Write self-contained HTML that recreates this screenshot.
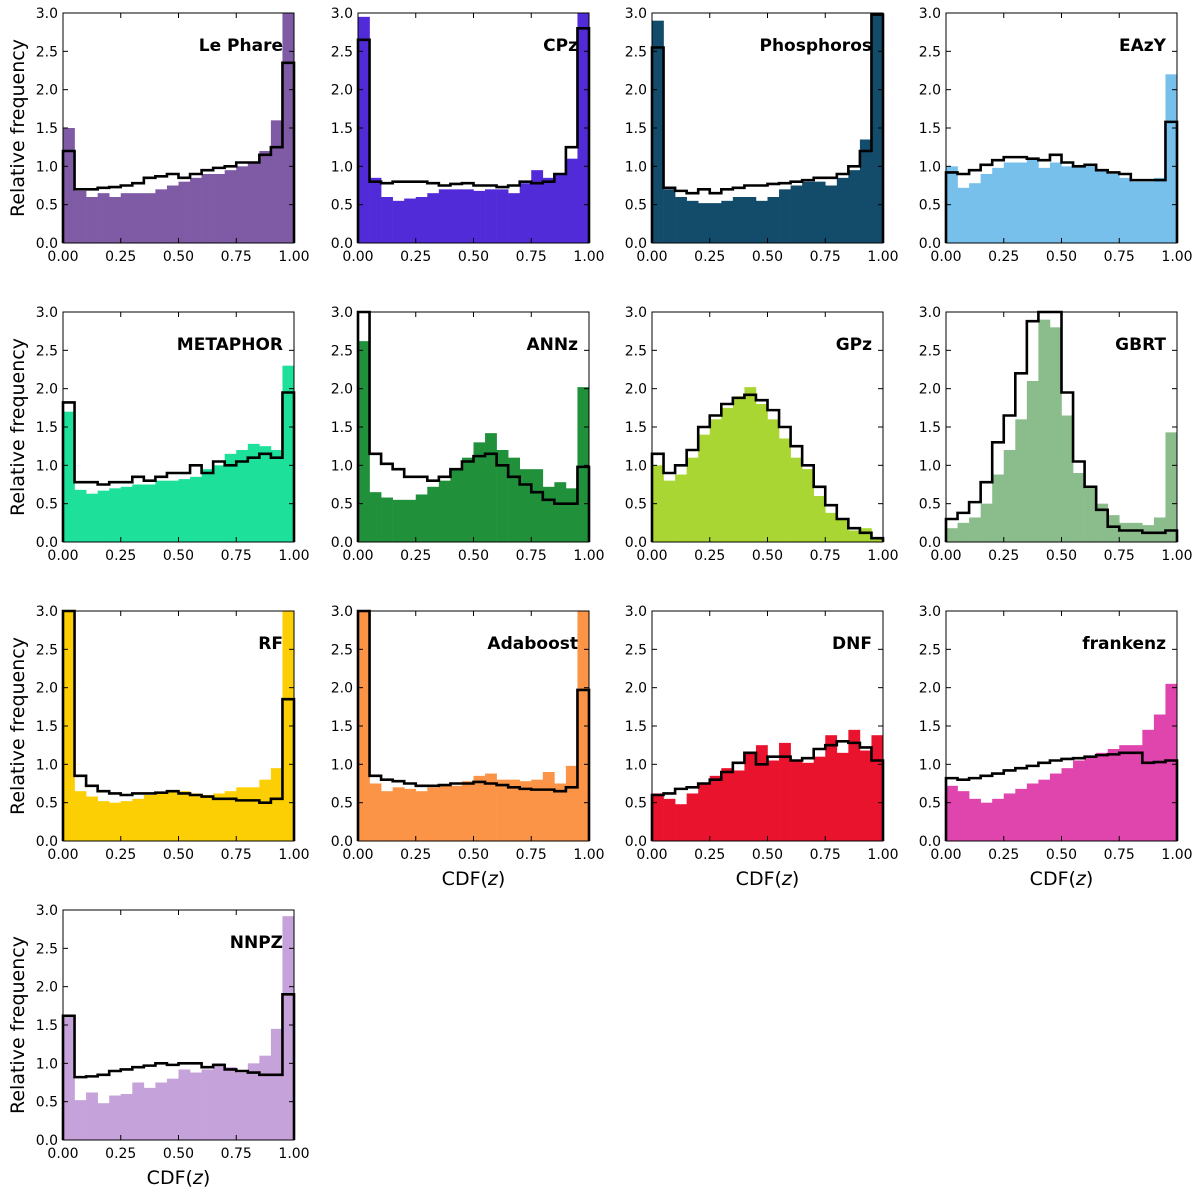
<!DOCTYPE html>
<html><head><meta charset="utf-8"><style>
body{margin:0;background:#fff}
svg{display:block;font-family:"DejaVu Sans","Liberation Sans",sans-serif}
</style></head><body>
<svg id="fig" width="1200" height="1197" viewBox="0 0 1200 1197" xmlns="http://www.w3.org/2000/svg"></svg>
<script>
const names=["Le Phare","CPz","Phosphoros","EAzY","METAPHOR","ANNz","GPz","GBRT","RF","Adaboost","DNF","frankenz","NNPZ"];
const colors=["#7f5ba6","#522bd8","#134b6b","#77c0ec","#1de09b","#21903b","#a9d632","#8bbc8b","#fccf05","#fb9446","#e9132e","#e044ad","#c6a2da"];
const bars=[
[1.5,0.68,0.6,0.65,0.6,0.65,0.65,0.65,0.7,0.75,0.8,0.85,0.9,0.9,0.95,1.0,1.05,1.2,1.6,3.0],
[2.95,0.85,0.6,0.55,0.58,0.6,0.65,0.7,0.7,0.7,0.68,0.7,0.7,0.65,0.78,0.95,0.85,0.9,1.1,3.0],
[2.9,0.7,0.6,0.55,0.52,0.52,0.55,0.6,0.6,0.55,0.6,0.7,0.75,0.8,0.8,0.75,0.85,0.95,1.35,3.0],
[1.0,0.72,0.78,0.9,0.98,1.05,1.05,1.1,0.98,1.05,1.0,1.0,1.0,0.95,0.9,0.85,0.8,0.8,0.85,2.2],
[1.7,0.68,0.63,0.67,0.7,0.72,0.75,0.75,0.8,0.8,0.82,0.85,0.95,1.0,1.15,1.2,1.28,1.25,1.2,2.3],
[2.62,0.65,0.58,0.55,0.55,0.62,0.72,0.8,0.95,1.1,1.3,1.42,1.2,1.1,0.95,0.95,0.72,0.78,0.7,2.02],
[1.0,0.8,0.88,1.1,1.4,1.6,1.75,1.9,2.02,1.8,1.6,1.35,1.1,0.95,0.6,0.38,0.3,0.15,0.18,0.05],
[0.18,0.25,0.32,0.5,0.88,1.2,1.6,2.1,2.9,2.8,1.65,0.9,0.7,0.5,0.35,0.25,0.25,0.22,0.32,1.43],
[3.0,0.65,0.58,0.52,0.5,0.52,0.55,0.6,0.62,0.65,0.65,0.62,0.6,0.62,0.65,0.7,0.7,0.8,0.95,3.0],
[3.0,0.75,0.65,0.7,0.68,0.65,0.7,0.72,0.72,0.78,0.85,0.88,0.8,0.8,0.78,0.8,0.9,0.75,0.98,3.0],
[0.62,0.55,0.48,0.62,0.75,0.85,0.95,0.92,1.15,1.25,1.05,1.28,1.05,1.02,1.1,1.38,1.15,1.45,1.18,1.38],
[0.72,0.65,0.55,0.5,0.55,0.62,0.68,0.75,0.8,0.88,0.95,1.05,1.1,1.15,1.2,1.25,1.25,1.45,1.65,2.05],
[1.6,0.52,0.62,0.48,0.58,0.6,0.75,0.68,0.75,0.8,0.92,0.88,0.92,1.0,0.95,0.88,1.0,1.1,1.45,2.92]];
const steps=[
[1.2,0.7,0.7,0.72,0.73,0.75,0.78,0.85,0.87,0.9,0.85,0.9,0.95,0.98,1.0,1.05,1.05,1.15,1.25,2.35],
[2.65,0.8,0.78,0.8,0.8,0.8,0.78,0.75,0.77,0.78,0.75,0.75,0.73,0.75,0.8,0.78,0.8,0.9,1.25,2.8],
[2.55,0.72,0.68,0.65,0.7,0.65,0.7,0.72,0.75,0.75,0.77,0.78,0.8,0.82,0.85,0.85,0.9,1.0,1.2,2.98],
[0.92,0.9,0.95,1.02,1.08,1.12,1.12,1.1,1.08,1.15,1.05,1.0,1.02,0.95,0.92,0.9,0.82,0.82,0.82,1.58],
[1.82,0.78,0.78,0.75,0.78,0.78,0.85,0.8,0.85,0.9,0.9,1.0,0.9,1.05,1.0,1.05,1.1,1.15,1.1,1.95],
[3.0,1.15,1.02,0.95,0.85,0.85,0.8,0.85,0.95,1.05,1.12,1.15,1.0,0.85,0.75,0.65,0.55,0.5,0.5,0.98],
[1.15,0.9,1.0,1.2,1.5,1.65,1.8,1.88,1.92,1.85,1.72,1.5,1.25,1.0,0.72,0.48,0.3,0.18,0.12,0.05],
[0.3,0.38,0.52,0.78,1.3,1.65,2.2,2.88,3.0,3.0,1.95,1.05,0.72,0.42,0.2,0.15,0.15,0.12,0.12,0.15],
[3.0,0.85,0.72,0.65,0.62,0.6,0.62,0.62,0.63,0.65,0.62,0.6,0.58,0.55,0.55,0.53,0.53,0.5,0.55,1.85],
[3.0,0.85,0.8,0.78,0.75,0.72,0.72,0.73,0.75,0.75,0.77,0.75,0.73,0.7,0.68,0.67,0.67,0.65,0.7,1.97],
[0.6,0.62,0.68,0.7,0.75,0.8,0.9,1.02,1.15,1.0,1.1,1.1,1.05,1.08,1.2,1.25,1.3,1.28,1.22,1.05],
[0.82,0.8,0.82,0.85,0.88,0.92,0.95,0.98,1.02,1.05,1.07,1.08,1.1,1.12,1.13,1.15,1.15,1.02,1.03,1.05],
[1.62,0.82,0.83,0.85,0.9,0.92,0.95,0.97,1.0,0.98,1.0,1.0,0.95,0.98,0.92,0.9,0.88,0.85,0.85,1.9]];
const xTicks=["0.00","0.25","0.50","0.75","1.00"];
const yTicks=["0.0","0.5","1.0","1.5","2.0","2.5","3.0"];

const NS="http://www.w3.org/2000/svg";
const svg=document.getElementById('fig');
const colX=[63,358,652,946], rowY=[13,312,611,910], W=231, H=230, YMAX=3.0;
function mk(tag,attrs,parent){const e=document.createElementNS(NS,tag);for(const k in attrs)e.setAttribute(k,attrs[k]);(parent||svg).appendChild(e);return e;}
names.forEach((name,p)=>{
  const x0=colX[p%4], y0=rowY[Math.floor(p/4)];
  const sx=v=>x0+v*W, sy=v=>y0+H-Math.min(v,YMAX)/YMAX*H;
  const g=mk('g',{});
  
  
  const n=bars[p].length, bw=1/n;
  bars[p].forEach((v,i)=>{
    const r=mk('rect',{x:sx(i*bw),y:sy(v),width:sx((i+1)*bw)-sx(i*bw)+0.3,height:sy(0)-sy(v),fill:colors[p]},g);
    
    
  });
  let d='M'+sx(0)+','+sy(0);
  steps[p].forEach((v,i)=>{d+=' L'+sx(i*bw)+','+sy(v)+' L'+sx((i+1)*bw)+','+sy(v);});
  d+=' L'+sx(1)+','+sy(0);
  const ln=mk('path',{d:d,fill:'none',stroke:'#000','stroke-width':2.6,'stroke-linejoin':'miter'},g);
  
  
  const fr=mk('rect',{x:x0,y:y0,width:W,height:H,fill:'none',stroke:'#000','stroke-width':1},g);
  
  
  xTicks.forEach(t=>{
    const xx=sx(parseFloat(t));
    mk('line',{x1:xx,x2:xx,y1:y0+H,y2:y0+H-5,stroke:'#000'},g);
    mk('line',{x1:xx,x2:xx,y1:y0,y2:y0+5,stroke:'#000'},g);
    const tx=mk('text',{x:xx,y:y0+H+18,'font-size':14,'text-anchor':'middle'},g);
    tx.textContent=t;
    
    
  });
  yTicks.forEach(t=>{
    const yy=sy(parseFloat(t));
    mk('line',{x1:x0,x2:x0+5,y1:yy,y2:yy,stroke:'#000'},g);
    mk('line',{x1:x0+W,x2:x0+W-5,y1:yy,y2:yy,stroke:'#000'},g);
    const tx=mk('text',{x:x0-5,y:yy+5,'font-size':14,'text-anchor':'end'},g);
    tx.textContent=t;
    
    
  });
  const tt=mk('text',{x:x0+W-11,y:y0+38,'font-size':17,'font-weight':'bold','text-anchor':'end'},g);
  tt.textContent=name;
  
  
  if(p%4===0){
    const yl=mk('text',{x:0,y:0,'font-size':19,'text-anchor':'middle',transform:'translate(24,'+(y0+H/2)+') rotate(-90)'},g);
    yl.textContent='Relative frequency';
    
    
  }
  if(p>=9||p===12){
    const xl=mk('text',{x:x0+W/2,y:y0+H+44,'font-size':19,'text-anchor':'middle'},g);
    xl.innerHTML='CDF(<tspan font-style="italic">z</tspan>)';
    
    
  }
});
</script>
</body></html>
